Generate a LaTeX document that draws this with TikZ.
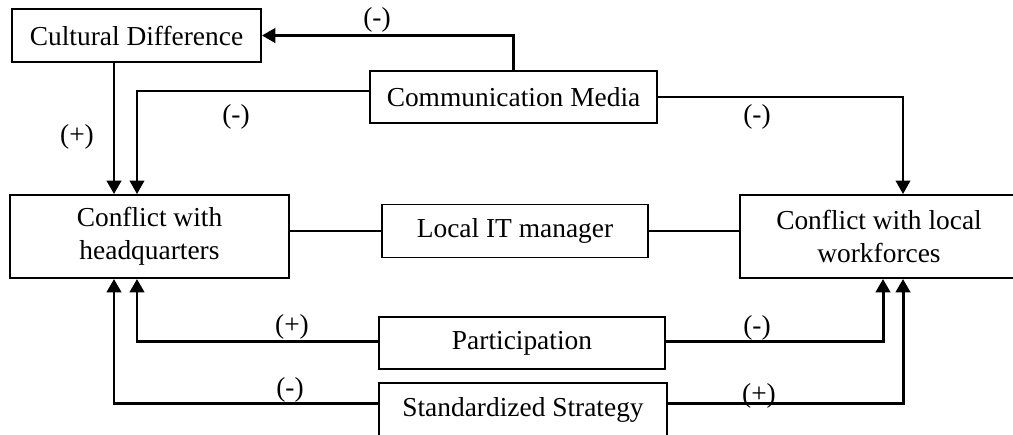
\documentclass[tikz,border=0pt]{standalone}
\usepackage{fontspec}
\setmainfont{Liberation Serif}
\usepackage{tikz}
\usetikzlibrary{arrows.meta,positioning}

\begin{document}
\begin{tikzpicture}[x=0.02cm, y=-0.02cm,
    box/.style={draw, line width=1.1pt, inner sep=0pt, align=center,
                font=\fontsize{15.6}{18.6}\selectfont},
    link/.style={line width=1.1pt},
    arr/.style={-{Triangle[length=0.27cm,width=0.29cm]}, line width=1.7pt},
    sign/.style={inner sep=0pt, font=\fontsize{15.6}{18.6}\selectfont}]
            \clip (0,0) rectangle (1013,434);
            \fill[white] (0,0) rectangle (1013,434);

            % Boxes
            \node[box, minimum width=4.98cm, minimum height=1.06cm] (cult) at (136.5,35.5) {Cultural Difference};
            \node[box, minimum width=5.74cm, minimum height=1.04cm, fill=white] (media) at (513.5,97) {Communication Media};
            \node[box, minimum width=5.58cm, minimum height=1.66cm] (hq) at (149.5,236.5) {Conflict with\\headquarters};
            \node[box, minimum width=5.32cm, minimum height=1.06cm] (itmgr) at (515,231) {Local IT manager};
            \node[box, minimum width=5.56cm, minimum height=1.66cm] (local) at (879,236.5) {Conflict with local\\workforces};
            \node[box, minimum width=5.72cm, minimum height=1.04cm] (partic) at (522,343) {Participation};
            \node[box, minimum width=5.76cm, minimum height=1.08cm] (strat) at (523,410) {Standardized Strategy};

            % Arrow columns
            \coordinate (hqA) at (114,0);
            \coordinate (hqB) at (137,0);
            \coordinate (locA) at (883,0);
            \coordinate (locB) at (903,0);

            % From the top
            \draw[arr] (media.north) |- (cult.east);
            \draw[arr] (cult.south -| hqA) -- (hq.north -| hqA);
            \draw[arr, line width=1.3pt] ([yshift=0.12cm]media.west) -| (hq.north -| hqB);
            \draw[arr, line width=1.3pt] (media.east) -| (local.north -| locB);

            % Middle
            \draw[link] (hq.east |- itmgr.west) -- (itmgr.west);
            \draw[link] (itmgr.east) -- (local.west |- itmgr.east);

            % From the bottom
            \draw[arr] ([yshift=0.04cm]partic.west) -| (hq.south -| hqB);
            \draw[arr] ([yshift=0.04cm]partic.east) -| (local.south -| locA);
            \draw[arr] ([yshift=0.14cm]strat.west) -| (hq.south -| hqA);
            \draw[arr] ([yshift=0.14cm]strat.east) -| (local.south -| locB);

            % Signs
            \node[sign] (s1) at (377,20) {(-)};
            \node[sign] (s2) at (77,137) {(+)};
            \node[sign] (s3) at (236,117) {(-)};
            \node[sign] (s4) at (757,117) {(-)};
            \node[sign] (s5) at (292,327) {(+)};
            \node[sign] (s6) at (290,390) {(-)};
            \node[sign] (s7) at (757,328) {(-)};
            \node[sign] (s8) at (759,396) {(+)};
        \end{tikzpicture}
\end{document}
